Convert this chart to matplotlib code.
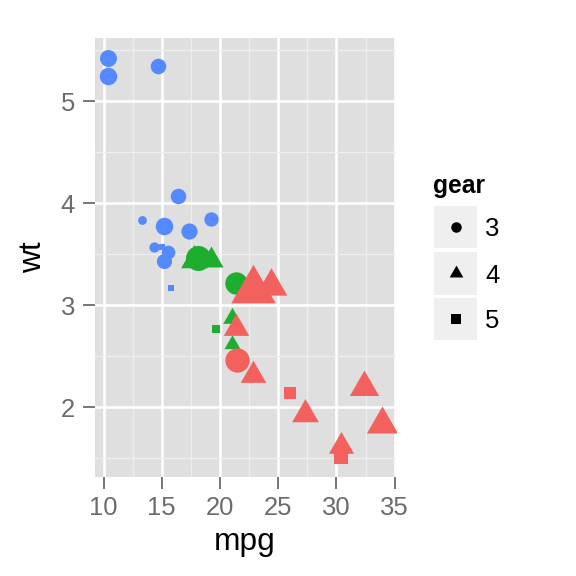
import matplotlib
matplotlib.use('Agg')
import matplotlib.pyplot as plt
import numpy as np
from matplotlib.path import Path
from matplotlib.patches import Rectangle

# mtcars: mpg, wt, cyl, gear, qsec (row order kept, ggplot draws in row order)
mpg = [21.0, 21.0, 22.8, 21.4, 18.7, 18.1, 14.3, 24.4, 22.8, 19.2, 17.8, 16.4, 17.3, 15.2,
       10.4, 10.4, 14.7, 32.4, 30.4, 33.9, 21.5, 15.5, 15.2, 13.3, 19.2, 27.3, 26.0, 30.4,
       15.8, 19.7, 15.0, 21.4]
wt = [2.620, 2.875, 2.320, 3.215, 3.440, 3.460, 3.570, 3.190, 3.150, 3.440, 3.440, 4.070,
      3.730, 3.780, 5.250, 5.424, 5.345, 2.200, 1.615, 1.835, 2.465, 3.520, 3.435, 3.840,
      3.845, 1.935, 2.140, 1.513, 3.170, 2.770, 3.570, 2.780]
cyl = [6, 6, 4, 6, 8, 6, 8, 4, 4, 6, 6, 8, 8, 8, 8, 8, 8, 4, 4, 4, 4, 8, 8, 8, 8, 4, 4, 4,
       8, 6, 8, 4]
gear = [4, 4, 4, 3, 3, 3, 3, 4, 4, 4, 4, 3, 3, 3, 3, 3, 3, 4, 4, 4, 3, 3, 3, 3, 3, 4, 5, 5,
        5, 5, 5, 4]
qsec = [16.46, 17.02, 18.61, 19.44, 17.02, 20.22, 15.84, 20.00, 22.90, 18.30, 18.90, 17.40,
        17.60, 18.00, 17.98, 17.82, 17.42, 19.47, 18.52, 19.90, 20.01, 16.87, 17.30, 15.41,
        17.05, 18.90, 16.70, 16.90, 14.50, 15.50, 14.60, 18.60]

gear_levels = [3, 4, 5]
cyl_colors = {4: '#F3615E', 6: '#1DAE2F', 8: '#5589FF'}

# shapes like R pch 16/17/15, with size -> marker scale (pt per ggplot size unit)
tri = Path([(0, 1), (-0.866, -0.5), (0.866, -0.5), (0, 1)],
           [Path.MOVETO, Path.LINETO, Path.LINETO, Path.CLOSEPOLY])
shape_of = {3: ('o', 2.84), 4: (tri, 4.28), 5: ('s', 2.81)}

plt.rcParams['font.family'] = ['Liberation Sans', 'DejaVu Sans']

fig = plt.figure(figsize=(4, 4), dpi=144)
ax = fig.add_axes([94.5 / 576, 1 - 476.7 / 576, 301 / 576, 438.4 / 576])
ax.set_facecolor('#DFDFDF')

# size scale, linear range 1..6
q = np.array(qsec)
size = 1 + 5 * (q - q.min()) / (q.max() - q.min())

for i in range(len(mpg)):
    m, k = shape_of[gear[i]]
    ax.scatter(mpg[i], wt[i], s=(k * size[i]) ** 2, marker=m, c=cyl_colors[cyl[i]],
               linewidths=0, zorder=3 + i * 0.01)

xr = max(mpg) - min(mpg)
yr = max(wt) - min(wt)
ax.set_xlim(min(mpg) - 0.05 * xr, max(mpg) + 0.05 * xr)
ax.set_ylim(min(wt) - 0.05 * yr, max(wt) + 0.05 * yr)

ax.set_xticks([10, 15, 20, 25, 30, 35])
ax.set_yticks([2, 3, 4, 5])
ax.set_xticks([12.5, 17.5, 22.5, 27.5, 32.5], minor=True)
ax.set_yticks([1.5, 2.5, 3.5, 4.5, 5.5], minor=True)
ax.grid(True, which='major', color='white', linewidth=1.3, zorder=1)
ax.grid(True, which='minor', color='#EEEEEE', linewidth=0.65, zorder=1)
ax.set_axisbelow(True)
for sp in ax.spines.values():
    sp.set_visible(False)
ax.tick_params(which='major', length=5.8, width=0.9, color='#6B6B6B',
               labelcolor='#6B6B6B', labelsize=12.8, pad=4)
ax.tick_params(axis='y', pad=4)
ax.tick_params(which='minor', length=0)

ax.set_xlabel('mpg', fontsize=15.8, labelpad=3.5)
ax.set_ylabel('wt', fontsize=15.8, labelpad=6)

# legend for gear (shape)
lax = fig.add_axes([430 / 576, 1 - 345 / 576, 80 / 576, 170 / 576])
lax.set_xlim(430, 510)
lax.set_ylim(345, 175)
lax.axis('off')
lax.text(433, 193, 'gear', fontsize=12.3, fontweight='bold', va='baseline', ha='left')
key_tops = [205.7, 252.0, 297.7]
for g, top in zip(gear_levels, key_tops):
    lax.add_patch(Rectangle((434, top), 43, 42.5, facecolor='#EFEFEF', edgecolor='none'))
    m, k = shape_of[g]
    lax.scatter(455.5, top + 21.25, s=(k * 1.85) ** 2, marker=m, c='black', linewidths=0)
    lax.text(485, top + 21.25, str(g), fontsize=12.8, va='center_baseline', ha='left')

fig.savefig('out.png', dpi=144)
